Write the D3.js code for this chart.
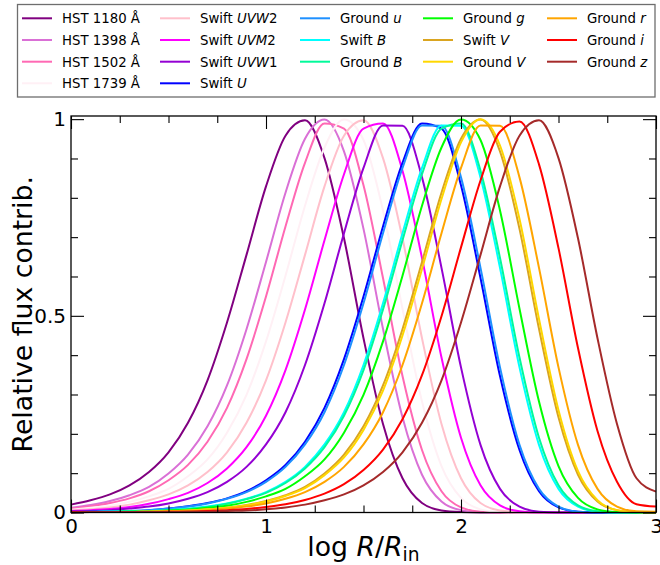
<!DOCTYPE html>
<html><head><meta charset="utf-8">
<script src="https://cdn.jsdelivr.net/npm/d3@7"></script>
<style>
body{margin:0;background:#fff}
svg{display:block;font-family:"DejaVu Sans",sans-serif}
</style></head><body>
<svg id="chart" width="660" height="565"></svg>
<script>
// ---------- data ----------
const logR = [0,0.1,0.2,0.3,0.4,0.5,0.6,0.7,0.8,0.9,1.0,1.1,1.2,1.3,1.4,1.5,1.6,1.7,1.8,1.9,2.0,2.1,2.2,2.3,2.4,2.5,2.6,2.7,2.8,2.9,3.0];

const hst1180 = [0.020,0.031,0.046,0.069,0.103,0.153,0.228,0.336,0.483,0.655,0.829,0.958,0.997,0.901,0.697,0.443,0.225,0.087,0.024,0.005,0.001,0,0,0,0,0,0,0,0,0,0];
const hst1398 = [0.012,0.019,0.029,0.044,0.065,0.099,0.147,0.219,0.323,0.466,0.637,0.813,0.950,0.999,0.918,0.721,0.467,0.242,0.096,0.028,0.006,0.001,0,0,0,0,0,0,0,0,0];
const hst1502 = [0.010,0.016,0.024,0.036,0.054,0.082,0.121,0.180,0.266,0.390,0.549,0.727,0.889,0.989,0.976,0.832,0.596,0.347,0.159,0.054,0.013,0.002,0,0,0,0,0,0,0,0,0];
const hst1739 = [0.007,0.012,0.017,0.027,0.041,0.060,0.092,0.135,0.203,0.299,0.435,0.602,0.780,0.928,0.999,0.947,0.768,0.518,0.282,0.118,0.037,0.008,0.001,0,0,0,0,0,0,0,0];
const swiftUVW2 = [0.005,0.008,0.013,0.020,0.031,0.046,0.069,0.103,0.153,0.228,0.336,0.483,0.655,0.829,0.958,0.997,0.901,0.697,0.443,0.225,0.087,0.024,0.005,0.001,0,0,0,0,0,0,0];
const swiftUVM2 = [0.004,0.006,0.009,0.014,0.022,0.034,0.050,0.075,0.112,0.166,0.246,0.362,0.516,0.692,0.860,0.976,0.989,0.869,0.647,0.394,0.190,0.069,0.018,0.003,0,0,0,0,0,0,0];
const swiftUVW1 = [0.003,0.004,0.006,0.010,0.015,0.023,0.035,0.052,0.078,0.116,0.173,0.255,0.375,0.532,0.710,0.876,0.984,0.983,0.852,0.622,0.369,0.172,0.060,0.015,0.002,0,0,0,0,0,0];
const swiftU = [0.001,0.002,0.003,0.004,0.006,0.010,0.016,0.024,0.036,0.054,0.082,0.121,0.180,0.266,0.390,0.549,0.727,0.889,0.989,0.976,0.832,0.596,0.347,0.159,0.054,0.013,0.002,0,0,0,0];
const groundu = [0.001,0.002,0.003,0.004,0.006,0.010,0.015,0.023,0.035,0.052,0.078,0.116,0.173,0.255,0.375,0.532,0.710,0.876,0.984,0.983,0.852,0.622,0.369,0.172,0.060,0.015,0.002,0,0,0,0];
const swiftB = [0.001,0.001,0.002,0.003,0.004,0.006,0.010,0.015,0.023,0.035,0.052,0.078,0.116,0.173,0.255,0.375,0.532,0.710,0.876,0.984,0.983,0.852,0.622,0.369,0.172,0.060,0.015,0.002,0,0,0];
const groundB = [0.001,0.001,0.002,0.003,0.004,0.006,0.009,0.014,0.022,0.034,0.050,0.075,0.112,0.166,0.246,0.362,0.516,0.692,0.860,0.976,0.989,0.869,0.647,0.394,0.190,0.069,0.018,0.003,0,0,0];
const groundg = [0.001,0.001,0.001,0.002,0.003,0.005,0.007,0.012,0.017,0.027,0.041,0.060,0.092,0.135,0.203,0.299,0.435,0.602,0.780,0.928,0.999,0.947,0.768,0.518,0.282,0.118,0.037,0.008,0.001,0,0];
const swiftV = [0.001,0.001,0.001,0.001,0.002,0.003,0.005,0.008,0.012,0.019,0.029,0.044,0.065,0.099,0.147,0.219,0.323,0.466,0.637,0.813,0.950,0.999,0.918,0.721,0.467,0.242,0.096,0.028,0.006,0.001,0];
const groundV = [0.001,0.001,0.001,0.001,0.002,0.003,0.005,0.008,0.012,0.018,0.028,0.042,0.062,0.095,0.140,0.210,0.310,0.450,0.619,0.797,0.941,1.000,0.933,0.746,0.492,0.260,0.105,0.031,0.006,0.001,0];
const groundr = [0.001,0.001,0.001,0.001,0.002,0.003,0.004,0.006,0.010,0.015,0.023,0.035,0.052,0.078,0.116,0.173,0.255,0.375,0.532,0.710,0.876,0.984,0.983,0.852,0.622,0.369,0.172,0.060,0.015,0.003,0.002];
const groundi = [0.001,0.001,0.001,0.001,0.001,0.002,0.002,0.004,0.006,0.009,0.014,0.021,0.032,0.048,0.072,0.108,0.160,0.237,0.349,0.499,0.674,0.844,0.968,0.994,0.885,0.672,0.418,0.207,0.078,0.021,0.015];
const groundz = [0,0.001,0.001,0.001,0.001,0.001,0.002,0.002,0.004,0.005,0.008,0.013,0.020,0.031,0.046,0.069,0.103,0.153,0.228,0.336,0.483,0.655,0.829,0.958,0.997,0.901,0.697,0.443,0.225,0.087,0.053];

// legend labels: text between * is italic
const seriesLabels = ["HST 1180 Å","HST 1398 Å","HST 1502 Å","HST 1739 Å",
  "Swift *UVW*2","Swift *UVM*2","Swift *UVW*1","Swift *U*",
  "Ground *u*","Swift *B*","Ground *B*",
  "Ground *g*","Swift *V*","Ground *V*",
  "Ground *r*","Ground *i*","Ground *z*"];
const seriesColors = ["#800080","#da70d6","#ff69b4","#fff0f5",
  "#ffc0cb","#ff00ff","#9400d3","#0000ff",
  "#1e90ff","#00ffff","#00fa9a",
  "#00ff00","#daa520","#ffd700",
  "#ffa500","#ff0000","#a52a2a"];
const seriesValues = [hst1180,hst1398,hst1502,hst1739,swiftUVW2,swiftUVM2,swiftUVW1,swiftU,
  groundu,swiftB,groundB,groundg,swiftV,groundV,groundr,groundi,groundz];
const legendColumnSizes = [4,4,3,3,3];

const xMajorTicks = [0,1,2,3];
const xTickLabels = ["0","1","2","3"];
const xMinorTicks = [0.25,0.5,0.75,1.25,1.5,1.75,2.25,2.5,2.75];
const yMajorTicks = [0,0.5,1];
const yTickLabels = ["0","0.5","1"];
const yMinorTicks = [0.1,0.2,0.3,0.4,0.6,0.7,0.8,0.9];

// ---------- layout ----------
const L = 71, R = 656, T = 116, B = 512.5;
const svg = d3.select("#chart");
const x = d3.scaleLinear().domain([0,3]).range([L,R]);
const y = d3.scaleLinear().domain([0,1.008]).range([B,T]);

// curves
const line = d3.line().x((d,i)=>x(logR[i])).y(d=>y(d)).curve(d3.curveMonotoneX);
const gLines = svg.append("g");
seriesValues.forEach((vals,k)=>{
  gLines.append("path").attr("d",line(vals)).attr("fill","none")
    .attr("stroke",seriesColors[k]).attr("stroke-width",2).attr("stroke-linejoin","round");
});

// axes (ticks inward on all sides)
function styleAxis(g){
  g.select(".domain").remove();
  g.selectAll("line").attr("stroke","#000").attr("stroke-width",1.1);
  g.selectAll("text").attr("font-family","DejaVu Sans, sans-serif").attr("font-size",20).attr("fill","#000");
}
const bottomMajor = svg.append("g").attr("transform",`translate(0,${B})`)
  .call(d3.axisBottom(x).tickValues(xMajorTicks).tickFormat((d,i)=>xTickLabels[i]).tickSize(-13).tickPadding(6));
styleAxis(bottomMajor);
styleAxis(svg.append("g").attr("transform",`translate(0,${B})`)
  .call(d3.axisBottom(x).tickValues(xMinorTicks).tickFormat("").tickSize(-7)));
styleAxis(svg.append("g").attr("transform",`translate(0,${T})`)
  .call(d3.axisTop(x).tickValues(xMajorTicks).tickFormat("").tickSize(-13)));
styleAxis(svg.append("g").attr("transform",`translate(0,${T})`)
  .call(d3.axisTop(x).tickValues(xMinorTicks).tickFormat("").tickSize(-7)));
const leftMajor = svg.append("g").attr("transform",`translate(${L},0)`)
  .call(d3.axisLeft(y).tickValues(yMajorTicks).tickFormat((d,i)=>yTickLabels[i]).tickSize(-13).tickPadding(5));
styleAxis(leftMajor);
styleAxis(svg.append("g").attr("transform",`translate(${L},0)`)
  .call(d3.axisLeft(y).tickValues(yMinorTicks).tickFormat("").tickSize(-7)));
styleAxis(svg.append("g").attr("transform",`translate(${R},0)`)
  .call(d3.axisRight(y).tickValues(yMajorTicks).tickFormat("").tickSize(-13)));
styleAxis(svg.append("g").attr("transform",`translate(${R},0)`)
  .call(d3.axisRight(y).tickValues(yMinorTicks).tickFormat("").tickSize(-7)));

// frame
svg.append("rect").attr("x",L).attr("y",T).attr("width",R-L).attr("height",B-T)
  .attr("fill","none").attr("stroke","#000").attr("stroke-width",1.3);

// axis labels
svg.append("text").attr("transform",`translate(31.5,${(T+B)/2}) rotate(-90)`)
  .attr("text-anchor","middle").attr("font-size",26.7).attr("fill","#000")
  .text("Relative flux contrib.");
const xl = svg.append("text").attr("x",(L+R)/2).attr("y",556)
  .attr("text-anchor","middle").attr("font-size",26.7).attr("fill","#000");
xl.append("tspan").text("log ");
xl.append("tspan").attr("font-style","italic").text("R");
xl.append("tspan").text("/");
xl.append("tspan").attr("font-style","italic").text("R");
xl.append("tspan").attr("font-size",18.7).attr("dy",5).text("in");

// legend
const lg = svg.append("g");
lg.append("rect").attr("x",17.5).attr("y",4.5).attr("width",637.5).attr("height",92.5)
  .attr("fill","#fff").attr("stroke","#6e6e6e").attr("stroke-width",1.3);
const colTextX = [62,200,340,463,587];
const rowY = [18.3,40,61.7,83.3];
let idx = 0;
legendColumnSizes.forEach((n,c)=>{
  for(let r=0;r<n;r++){
    const k = idx++;
    lg.append("line").attr("x1",colTextX[c]-40).attr("x2",colTextX[c]-10)
      .attr("y1",rowY[r]).attr("y2",rowY[r])
      .attr("stroke",seriesColors[k]).attr("stroke-width",2);
    const t = lg.append("text").attr("x",colTextX[c]).attr("y",rowY[r]+4.8)
      .attr("font-size",13.3).attr("fill","#000");
    seriesLabels[k].split("*").forEach((part,j)=>{
      if(part==="") return;
      const ts = t.append("tspan").text(part);
      if(j%2===1) ts.attr("font-style","italic");
    });
  }
});
</script>
</body></html>
